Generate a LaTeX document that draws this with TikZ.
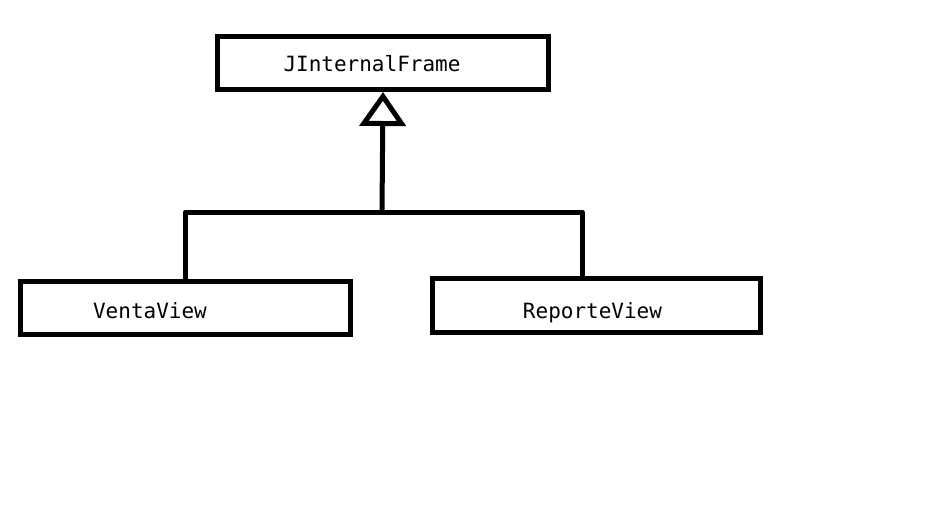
\documentclass[tikz,border=0pt]{standalone}
\usepackage{fontspec}
\newfontfamily\umlmono{DejaVu Sans Mono}
\usetikzlibrary{arrows.meta,positioning}
\definecolor{umlInk}{RGB}{0,0,0}

\begin{document}
\begin{tikzpicture}[x=1pt, y=-1pt,
  classbox/.style={rectangle, draw=umlInk, line width=5pt, fill=white,
                   inner sep=0pt},
  classname/.style={anchor=base, inner sep=0pt,
                    font=\umlmono\fontsize{21}{24}\selectfont},
  inherit/.style={umlInk, line width=5pt, line join=round},
  genarr/.style={inherit, -{Triangle[open, length=34pt, width=46pt, line width=5pt]}},
]
\useasboundingbox (0,0) rectangle (942,517);

%% class boxes
\node[classbox, minimum width=331pt, minimum height=53pt] (jif) at (383,63) {};
\node[classbox, minimum width=330pt, minimum height=53pt] (venta) at (185.5,308) {};
\node[classbox, minimum width=328pt, minimum height=54pt] (rep) at (596.5,305.5) {};

%% class names
\node[classname] (jifname) at (372,71) {JInternalFrame};
\node[classname] (ventaname) at (150,318) {VentaView};
\node[classname] (repname) at (592.5,318) {ReporteView};

%% generalisation tree
\coordinate (joint) at (382,212);
\coordinate (repstub) at ([xshift=-14.5pt]rep.north);
\draw[inherit] (venta.north) |- (joint) -| (repstub);
\draw[genarr] (joint) -- (jif.south);

\end{tikzpicture}
\end{document}
